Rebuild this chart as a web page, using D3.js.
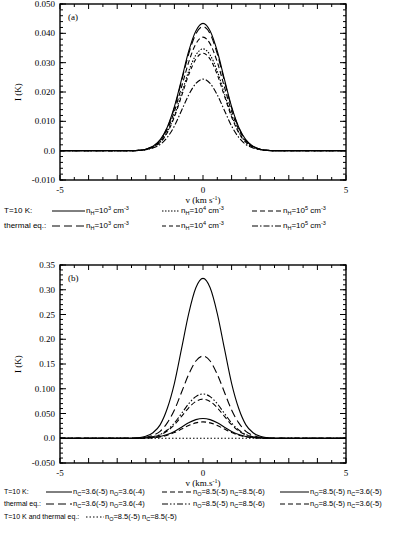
<!DOCTYPE html>
<html>
<head>
<meta charset="UTF-8">
<title>I(K) vs v</title>
<style>
  body { margin: 0; background: white; }
  svg { display: block; background: white; }
  .tick-label { font-family: "Liberation Serif", serif; font-size: 9px; fill: #000; }
  .leg { font-family: "Liberation Sans", sans-serif; font-size: 7.5px; fill: #000; }
  .leg-a { font-size: 8px; }
  .row-b { font-size: 7px; }
  .curve { fill: none; stroke: #000; stroke-width: 1.1; }
</style>
<script src="https://cdnjs.cloudflare.com/ajax/libs/d3/7.8.5/d3.min.js"></script>
</head>
<body>
<div id="chart"></div>
<script>
// velocity grid (km/s)
const vel = [-5, -2.5, -2.25, -2, -1.75, -1.5, -1.25, -1, -0.75, -0.5, -0.25, 0,
             0.25, 0.5, 0.75, 1, 1.25, 1.5, 1.75, 2, 2.25, 2.5, 5];

// panel (a): n_H series, intensity in K
const aT10n3 = [0, 0, 0.0001, 0.0005, 0.0015, 0.0037, 0.0080, 0.0150, 0.0243, 0.0339, 0.0408, 0.0434,
                0.0408, 0.0339, 0.0243, 0.0150, 0.0080, 0.0037, 0.0015, 0.0005, 0.0001, 0, 0];
const aT10n4 = [0, 0, 0.0001, 0.0004, 0.0012, 0.0029, 0.0064, 0.0120, 0.0194, 0.0271, 0.0326, 0.0347,
                0.0326, 0.0271, 0.0194, 0.0120, 0.0064, 0.0029, 0.0012, 0.0004, 0.0001, 0, 0];
const aT10n5 = [0, 0, 0.0001, 0.0005, 0.0014, 0.0033, 0.0072, 0.0134, 0.0217, 0.0302, 0.0364, 0.0387,
                0.0364, 0.0302, 0.0217, 0.0134, 0.0072, 0.0033, 0.0014, 0.0005, 0.0001, 0, 0];
const aEqn3 = [0, 0, 0.0001, 0.0005, 0.0015, 0.0036, 0.0078, 0.0146, 0.0237, 0.0330, 0.0398, 0.0423,
               0.0398, 0.0330, 0.0237, 0.0146, 0.0078, 0.0036, 0.0015, 0.0005, 0.0001, 0, 0];
const aEqn4 = [0, 0, 0.0001, 0.0004, 0.0012, 0.0028, 0.0061, 0.0115, 0.0186, 0.0259, 0.0312, 0.0332,
               0.0312, 0.0259, 0.0186, 0.0115, 0.0061, 0.0028, 0.0012, 0.0004, 0.0001, 0, 0];
const aEqn5 = [0, 0, 0.0001, 0.0003, 0.0009, 0.0021, 0.0045, 0.0084, 0.0137, 0.0190, 0.0229, 0.0244,
               0.0229, 0.0190, 0.0137, 0.0084, 0.0045, 0.0021, 0.0009, 0.0003, 0.0001, 0, 0];

// panel (b): abundance series
const bT10co = [0, 0, 0.001, 0.004, 0.011, 0.027, 0.060, 0.111, 0.181, 0.252, 0.304, 0.323,
                0.304, 0.252, 0.181, 0.111, 0.060, 0.027, 0.011, 0.004, 0.001, 0, 0];
const bT10oc6 = [0, 0, 0.0002, 0.0009, 0.0028, 0.0067, 0.0146, 0.0273, 0.0442, 0.0616, 0.0743, 0.079,
                 0.0743, 0.0616, 0.0442, 0.0273, 0.0146, 0.0067, 0.0028, 0.0009, 0.0002, 0, 0];
const bT10oc5 = [0, 0, 0.0001, 0.0005, 0.0014, 0.0034, 0.0074, 0.0138, 0.0224, 0.0312, 0.0376, 0.040,
                 0.0376, 0.0312, 0.0224, 0.0138, 0.0074, 0.0034, 0.0014, 0.0005, 0.0001, 0, 0];
const bEqco = [0, 0, 0.0005, 0.002, 0.006, 0.014, 0.031, 0.057, 0.093, 0.129, 0.156, 0.166,
               0.156, 0.129, 0.093, 0.057, 0.031, 0.014, 0.006, 0.002, 0.0005, 0, 0];
const bEqoc6 = [0, 0, 0.0003, 0.0011, 0.0031, 0.0076, 0.0166, 0.0309, 0.0501, 0.0698, 0.0841, 0.0895,
                0.0841, 0.0698, 0.0501, 0.0309, 0.0166, 0.0076, 0.0031, 0.0011, 0.0003, 0, 0];
const bEqoc5 = [0, 0, 0.0001, 0.0004, 0.0012, 0.0028, 0.0061, 0.0114, 0.0185, 0.0257, 0.0310, 0.033,
                0.0310, 0.0257, 0.0185, 0.0114, 0.0061, 0.0028, 0.0012, 0.0004, 0.0001, 0, 0];
const bBoth = [0, 0, 0, 0, 0, 0, 0, 0, 0, 0, 0, 0, 0, 0, 0, 0, 0, 0, 0, 0, 0, 0, 0];

// tick labels
const xTicks = [-5, 0, 5];
const aYTicks = [-0.01, 0, 0.01, 0.02, 0.03, 0.04, 0.05];
const aYLabels = ["-0.010", "0.0", "0.010", "0.020", "0.030", "0.040", "0.050"];
const bYTicks = [-0.05, 0, 0.05, 0.1, 0.15, 0.2, 0.25, 0.3, 0.35];
const bYLabels = ["-0.050", "0.0", "0.050", "0.100", "0.15", "0.20", "0.25", "0.30", "0.35"];

const W = 397, H = 535;
const svg = d3.select("#chart").append("svg").attr("width", W).attr("height", H);

const x = d3.scaleLinear().domain([-5, 5]).range([60, 346]);

function drawPanel(opt) {
  const y = d3.scaleLinear().domain(opt.yDomain).range([opt.bottom, opt.top]);
  const g = svg.append("g");

  // curves
  const line = d3.line().x((d, i) => x(vel[i])).y(d => y(d)).curve(d3.curveMonotoneX);
  opt.series.forEach(s => {
    g.append("path").datum(s.values).attr("class", "curve")
      .attr("d", line)
      .attr("stroke-dasharray", s.dash);
  });

  // frame
  g.append("rect").attr("x", x(-5)).attr("y", opt.top)
    .attr("width", x(5) - x(-5)).attr("height", opt.bottom - opt.top)
    .attr("fill", "none").attr("stroke", "#000").attr("stroke-width", 1.4);

  // y ticks (inward both sides)
  const yMinor = d3.range(opt.yDomain[0], opt.yDomain[1] + 1e-9, opt.minorStep);
  yMinor.forEach(v => {
    g.append("line").attr("x1", x(-5)).attr("x2", x(-5) + 3).attr("y1", y(v)).attr("y2", y(v)).attr("stroke", "#000");
    g.append("line").attr("x1", x(5)).attr("x2", x(5) - 3).attr("y1", y(v)).attr("y2", y(v)).attr("stroke", "#000");
  });
  opt.yTicks.forEach((v, i) => {
    g.append("line").attr("x1", x(-5)).attr("x2", x(-5) + 6).attr("y1", y(v)).attr("y2", y(v)).attr("stroke", "#000");
    g.append("line").attr("x1", x(5)).attr("x2", x(5) - 6).attr("y1", y(v)).attr("y2", y(v)).attr("stroke", "#000");
    g.append("text").attr("class", "tick-label").attr("x", x(-5) - 5).attr("y", y(v) + 3)
      .attr("text-anchor", "end").text(opt.yLabels[i]);
  });

  // x ticks (inward top and bottom)
  d3.range(-5, 5.01, 0.5).forEach(v => {
    const len = Number.isInteger(v) ? 5 : 3;
    g.append("line").attr("x1", x(v)).attr("x2", x(v)).attr("y1", opt.bottom).attr("y2", opt.bottom - len).attr("stroke", "#000");
    g.append("line").attr("x1", x(v)).attr("x2", x(v)).attr("y1", opt.top).attr("y2", opt.top + len).attr("stroke", "#000");
  });
  xTicks.forEach(v => {
    g.append("text").attr("class", "tick-label").attr("x", x(v)).attr("y", opt.bottom + 13)
      .attr("text-anchor", "middle").text(v < 0 ? "-" + Math.abs(v) : v);
  });

  // x axis title
  const xt = g.append("text").attr("class", "tick-label").attr("x", x(0)).attr("y", opt.bottom + 23)
    .attr("text-anchor", "middle");
  xt.append("tspan").text(opt.xTitle);
  xt.append("tspan").attr("dy", -3).style("font-size", "6px").text("-1");
  xt.append("tspan").attr("dy", 3).text(")");

  // y axis title
  g.append("text").attr("class", "tick-label")
    .attr("transform", `translate(21,${(opt.top + opt.bottom) / 2}) rotate(-90)`)
    .attr("text-anchor", "middle").text("I (K)");

  // panel tag
  g.append("text").attr("class", "tick-label").attr("x", x(-5) + 8).attr("y", opt.top + 16).text(opt.tag);

  return g;
}

// legend helper: label parts [text, 'sub'|'sup'|null]
function legendText(xp, yp, parts, cls) {
  const t = svg.append("text").attr("class", "leg " + (cls || "")).attr("x", xp).attr("y", yp);
  let shift = 0;
  parts.forEach(([s, mode]) => {
    const target = mode === "sub" ? 2 : mode === "sup" ? -3 : 0;
    const sp = t.append("tspan").attr("dy", target - shift).text(s);
    if (mode) sp.style("font-size", "5.5px");
    shift = target;
  });
}
function legendLine(x1, x2, yp, dash) {
  svg.append("line").attr("x1", x1).attr("x2", x2).attr("y1", yp - 2).attr("y2", yp - 2)
    .attr("stroke", "#000").attr("stroke-width", 1).attr("stroke-dasharray", dash);
}

const nH = p => [["n", null], ["H", "sub"], ["=10", null], [p, "sup"], [" cm", null], ["-3", "sup"]];
const nCO = (a, b, c, d) => [["n", null], [a, "sub"], [b, null], ["n", null], [c, "sub"], [d, null]];

// ---- panel (a)
const aSeries = [
  { values: aT10n3, dash: null, label: "3", row: 0, col: 0 },
  { values: aT10n4, dash: "1.5,1.5", label: "4", row: 0, col: 1 },
  { values: aT10n5, dash: "5,3", label: "5", row: 0, col: 2 },
  { values: aEqn3, dash: "8,4", label: "3", row: 1, col: 0 },
  { values: aEqn4, dash: "4,3", label: "4", row: 1, col: 1 },
  { values: aEqn5, dash: "6,2,1.5,2", label: "5", row: 1, col: 2 }
];
drawPanel({
  top: 4, bottom: 180, yDomain: [-0.01, 0.05], minorStep: 0.002,
  yTicks: aYTicks, yLabels: aYLabels, series: aSeries, tag: "(a)", xTitle: "v (km s"
});

const aRows = [213, 228];
const aRowLabels = ["T=10 K:", "thermal eq.:"];
const aCols = [[52, 85], [162, 180], [252, 282]];
aRowLabels.forEach((t, i) => svg.append("text").attr("class", "leg leg-a").attr("x", 4).attr("y", aRows[i]).text(t));
aSeries.forEach(s => {
  const c = aCols[s.col], yp = aRows[s.row];
  legendLine(c[0], c[1], yp, s.dash);
  legendText(c[1] + 1, yp, nH(s.label), "leg-a");
});

// ---- panel (b)
const bSeries = [
  { values: bT10co, dash: null, row: 0, col: 0, txt: nCO("C", "=3.6(-5) ", "O", "=3.6(-4)") },
  { values: bT10oc6, dash: "5,3", row: 0, col: 1, txt: nCO("O", "=8.5(-5) ", "C", "=8.5(-6)") },
  { values: bT10oc5, dash: null, row: 0, col: 2, txt: nCO("O", "=8.5(-5) ", "C", "=3.6(-5)") },
  { values: bEqco, dash: "8,4", row: 1, col: 0, txt: nCO("C", "=3.6(-5) ", "O", "=3.6(-4)") },
  { values: bEqoc6, dash: "6,2,1.5,2,1.5,2", row: 1, col: 1, txt: nCO("O", "=8.5(-5) ", "C", "=8.5(-6)") },
  { values: bEqoc5, dash: "5,3", row: 1, col: 2, txt: nCO("O", "=8.5(-5) ", "C", "=3.6(-5)") },
  { values: bBoth, dash: "1.5,2", row: 2, col: 3, txt: nCO("O", "=8.5(-5) ", "C", "=8.5(-5)") }
];
drawPanel({
  top: 265, bottom: 463, yDomain: [-0.05, 0.35], minorStep: 0.01,
  yTicks: bYTicks, yLabels: bYLabels, series: bSeries, tag: "(b)", xTitle: "v (km.s"
});

const bRows = [494, 506, 519];
const bRowLabels = ["T=10 K:", "thermal eq.:", "T=10 K and thermal eq.:"];
const bCols = [[46, 72], [162, 192], [280, 309], [86, 104]];
bRowLabels.forEach((t, i) => svg.append("text").attr("class", "leg row-b").attr("x", 4).attr("y", bRows[i]).text(t));
bSeries.forEach(s => {
  const c = bCols[s.col], yp = bRows[s.row];
  legendLine(c[0], c[1], yp, s.dash);
  legendText(c[1] + 1, yp, s.txt);
});
</script>
</body>
</html>
